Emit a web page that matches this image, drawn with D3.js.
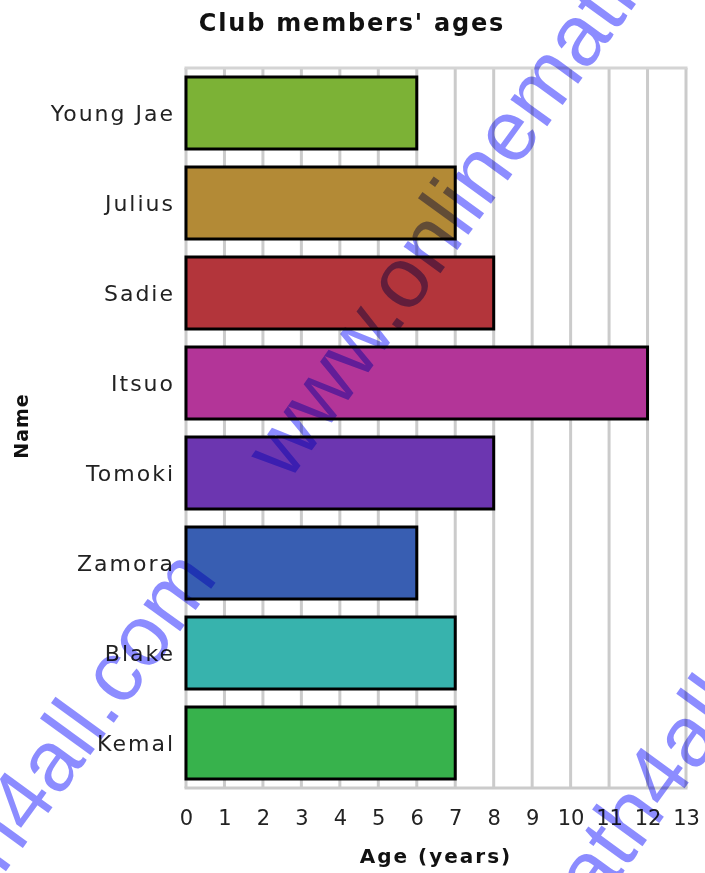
<!DOCTYPE html>
<html>
<head>
<meta charset="utf-8">
<script src="https://cdn.jsdelivr.net/npm/d3@7"></script>
<style>
  body { margin: 0; background: #fff; }
  svg { display: block; }
</style>
</head>
<body>
<div id="chart"></div>
<script>
var svgWidth = 705;
var svgHeight = 873;

var margin = { top: 68, right: 19, bottom: 85, left: 186 };
var chartWidth = svgWidth - margin.left - margin.right;
var chartHeight = svgHeight - margin.top - margin.bottom;

// data
var names = ["Young Jae", "Julius", "Sadie", "Itsuo", "Tomoki", "Zamora", "Blake", "Kemal"];
var ages = [6, 7, 8, 12, 8, 6, 7, 7];
var barColors = ["#7cb236", "#b38a36", "#b3353b", "#b33598", "#6c36b0", "#385eb2", "#37b3ad", "#37b24c"];
var xTicks = d3.range(0, 14);

var svg = d3.select("#chart")
    .append("svg")
    .attr("width", svgWidth)
    .attr("height", svgHeight);

var chartGroup = svg.append("g")
    .attr("transform", `translate(${margin.left}, ${margin.top})`);

var xScale = d3.scaleLinear()
    .domain([0, 13])
    .range([0, chartWidth]);

var yScale = d3.scaleBand()
    .domain(names)
    .range([0, chartHeight])
    .paddingInner(0.2)
    .paddingOuter(0.1);

// grid
chartGroup.append("g")
    .selectAll("line")
    .data(xTicks)
    .enter()
    .append("line")
    .attr("x1", d => xScale(d))
    .attr("x2", d => xScale(d))
    .attr("y1", 0)
    .attr("y2", chartHeight)
    .attr("stroke", "#cbcbcb")
    .attr("stroke-width", 3);

chartGroup.append("line")
    .attr("x1", -1.5).attr("x2", chartWidth + 1.5)
    .attr("y1", 0).attr("y2", 0)
    .attr("stroke", "#d4d4d4").attr("stroke-width", 3);

chartGroup.append("line")
    .attr("x1", -1.5).attr("x2", chartWidth + 1.5)
    .attr("y1", chartHeight).attr("y2", chartHeight)
    .attr("stroke", "#cbcbcb").attr("stroke-width", 3);

// bars
chartGroup.selectAll("rect.bar")
    .data(names)
    .enter()
    .append("rect")
    .attr("class", "bar")
    .attr("x", xScale(0))
    .attr("y", d => yScale(d))
    .attr("width", (d, i) => xScale(ages[i]) - xScale(0))
    .attr("height", yScale.bandwidth())
    .attr("fill", (d, i) => barColors[i])
    .attr("stroke", "#000")
    .attr("stroke-width", 3);

// axes
var bottomAxis = d3.axisBottom(xScale)
    .tickValues(xTicks)
    .tickSize(0)
    .tickPadding(0);

var xAxis = chartGroup.append("g")
    .attr("transform", `translate(0, ${chartHeight})`)
    .call(bottomAxis);
xAxis.select(".domain").remove();
xAxis.selectAll("text")
    .attr("y", 37)
    .attr("dy", 0)
    .attr("fill", "#222")
    .style("font-family", "DejaVu Sans")
    .style("font-size", "21px");

var leftAxis = d3.axisLeft(yScale)
    .tickSize(0)
    .tickPadding(11);

var yAxis = chartGroup.append("g")
    .call(leftAxis);
yAxis.select(".domain").remove();
yAxis.selectAll("text")
    .attr("dy", "0.36em")
    .attr("fill", "#222")
    .style("font-family", "DejaVu Sans")
    .style("font-size", "22px")
    .style("letter-spacing", "2px");

// titles
svg.append("text")
    .attr("x", 352)
    .attr("y", 31)
    .attr("text-anchor", "middle")
    .style("font-family", "DejaVu Sans")
    .style("font-weight", "bold")
    .style("font-size", "24px")
    .style("letter-spacing", "1.8px")
    .attr("fill", "#111")
    .text("Club members' ages");

svg.append("text")
    .attr("x", margin.left + chartWidth / 2)
    .attr("y", 863)
    .attr("text-anchor", "middle")
    .style("font-family", "DejaVu Sans")
    .style("font-weight", "bold")
    .style("font-size", "20px")
    .style("letter-spacing", "2px")
    .attr("fill", "#111")
    .text("Age (years)");

svg.append("text")
    .attr("transform", `translate(28, 426) rotate(-90)`)
    .attr("text-anchor", "middle")
    .style("font-family", "DejaVu Sans")
    .style("font-weight", "bold")
    .style("font-size", "19px")
    .style("letter-spacing", "1px")
    .attr("fill", "#111")
    .text("Name");

// watermark
var markText = "www.onlinemath4all.com";
var markStarts = [[288, 483], [299, 1319]];
var markGroup = svg.append("g")
    .style("mix-blend-mode", "multiply")
    .attr("pointer-events", "none");

markStarts.forEach(function(p) {
    var line = markGroup.append("g")
        .attr("transform", `translate(${p[0]}, ${p[1]}) rotate(-54)`);
    [-1, 0, 1].forEach(function(k) {
        line.append("text")
            .attr("x", k * 1064)
            .attr("y", 0)
            .style("font-family", "Liberation Sans")
            .style("font-size", "86px")
            .attr("fill", "rgb(120,120,255)")
            .attr("fill-opacity", 0.85)
            .text(markText);
    });
});
</script>
</body>
</html>
